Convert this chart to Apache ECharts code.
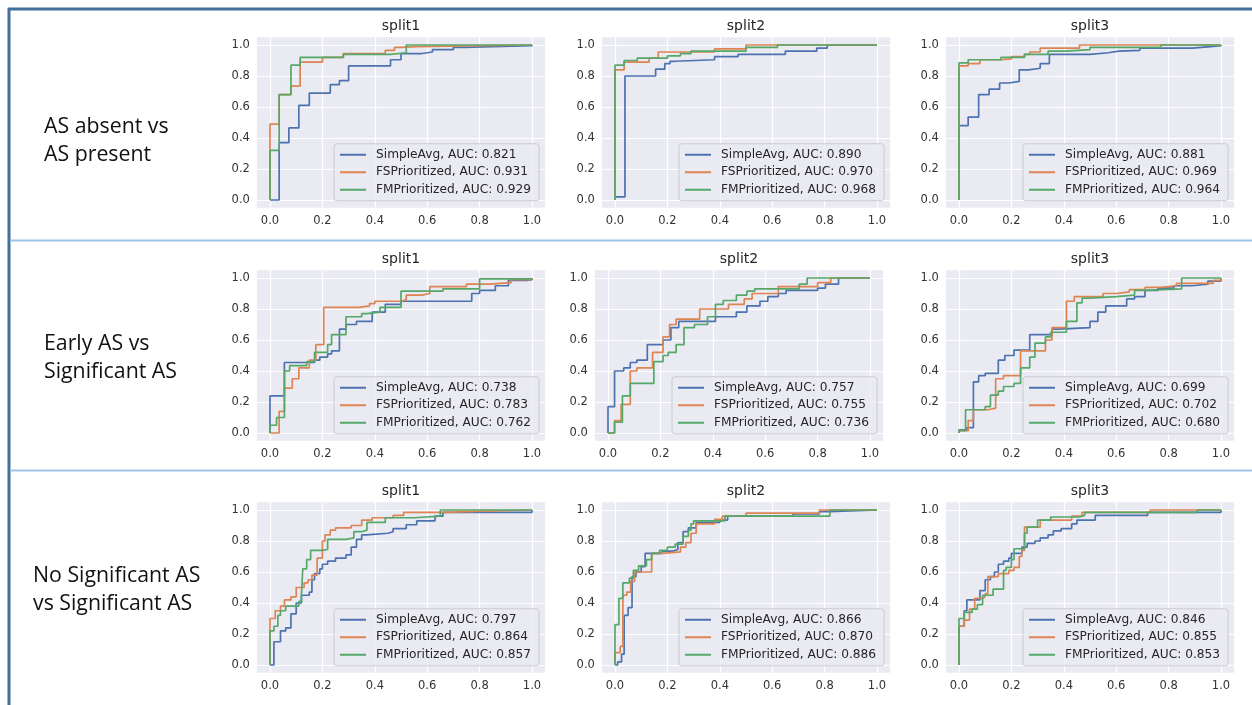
<!DOCTYPE html>
<html>
<head>
<meta charset="utf-8">
<script src="https://cdn.jsdelivr.net/npm/echarts@6/dist/echarts.min.js"></script>
<style>
  html, body { margin: 0; background: #fff; }
  #chart { width: 1252px; height: 705px; }
</style>
</head>
<body>
<div id="chart"></div>
<script>
// ---- data (ROC points: [fpr, tpr after the jump]) ----
const rowLabels = ['AS absent vs\nAS present', 'Early AS vs\nSignificant AS', 'No Significant AS\nvs Significant AS']
const splitTitles = ['split1', 'split2', 'split3']
const modelNames = ['SimpleAvg', 'FSPrioritized', 'FMPrioritized']
const tickValues = [0, 0.2, 0.4, 0.6, 0.8, 1.0]

const absentAuc = [[0.821, 0.931, 0.929], [0.890, 0.970, 0.968], [0.881, 0.969, 0.964]]
const earlyAuc = [[0.738, 0.783, 0.762], [0.757, 0.755, 0.736], [0.699, 0.702, 0.680]]
const noSigAuc = [[0.797, 0.864, 0.857], [0.866, 0.870, 0.886], [0.846, 0.855, 0.853]]

const absentS1Simple = [[0,0],[0.035,0.37],[0.072,0.465],[0.11,0.61],[0.15,0.69],[0.23,0.745],[0.265,0.77],[0.30,0.865],[0.46,0.905],[0.50,0.945],[0.58,0.955],[0.62,0.97],[0.70,0.985],[0.74,0.995],[1,1]]
const absentS1FS = [[0,0],[0,0.49],[0.035,0.68],[0.08,0.735],[0.115,0.89],[0.20,0.92],[0.28,0.945],[0.44,0.965],[0.475,0.985],[0.50,0.99],[0.56,1],[1,1]]
const absentS1FM = [[0,0],[0,0.32],[0.035,0.68],[0.08,0.87],[0.115,0.92],[0.28,0.94],[0.46,0.95],[0.52,1],[1,1]]

const absentS2Simple = [[0,0],[0,0.02],[0.038,0.80],[0.155,0.845],[0.19,0.88],[0.21,0.895],[0.23,0.905],[0.38,0.925],[0.47,0.94],[0.65,0.96],[0.77,0.98],[0.81,1],[1,1]]
const absentS2FS = [[0,0],[0,0.84],[0.035,0.89],[0.13,0.915],[0.165,0.955],[0.38,0.975],[0.50,1],[1,1]]
const absentS2FM = [[0,0],[0,0.87],[0.035,0.90],[0.085,0.915],[0.20,0.93],[0.25,0.945],[0.29,0.96],[0.50,0.985],[0.62,1],[1,1]]

const absentS3Simple = [[0,0],[0,0.48],[0.035,0.535],[0.075,0.68],[0.115,0.715],[0.155,0.755],[0.19,0.765],[0.23,0.84],[0.265,0.85],[0.31,0.88],[0.345,0.94],[0.50,0.95],[0.57,0.96],[0.61,0.965],[0.69,0.98],[0.89,0.99],[0.96,0.995],[1,1]]
const absentS3FS = [[0,0],[0,0.865],[0.035,0.88],[0.08,0.905],[0.16,0.91],[0.20,0.925],[0.25,0.94],[0.27,0.955],[0.31,0.98],[0.46,1],[1,1]]
const absentS3FM = [[0,0],[0,0.885],[0.035,0.905],[0.16,0.92],[0.25,0.94],[0.34,0.96],[0.41,0.97],[0.50,0.985],[0.77,1],[1,1]]

const earlyS1Simple = [[0,0],[0,0.24],[0.055,0.455],[0.17,0.47],[0.19,0.49],[0.22,0.51],[0.235,0.53],[0.265,0.67],[0.29,0.70],[0.33,0.72],[0.39,0.78],[0.44,0.83],[0.50,0.85],[0.77,0.90],[0.80,0.92],[0.86,0.95],[0.91,0.985],[0.98,0.99],[1,1]]
const earlyS1FS = [[0,0],[0.035,0.14],[0.055,0.29],[0.085,0.35],[0.11,0.42],[0.15,0.47],[0.175,0.57],[0.205,0.81],[0.34,0.82],[0.38,0.835],[0.40,0.85],[0.50,0.86],[0.52,0.89],[0.58,0.90],[0.61,0.945],[0.75,0.96],[0.84,0.97],[0.92,0.99],[1,1]]
const earlyS1FM = [[0,0],[0,0.05],[0.025,0.10],[0.055,0.40],[0.075,0.435],[0.14,0.46],[0.17,0.52],[0.22,0.57],[0.235,0.635],[0.29,0.75],[0.35,0.77],[0.37,0.78],[0.42,0.81],[0.50,0.915],[0.66,0.93],[0.80,0.995],[1,1]]

const earlyS2Simple = [[0,0],[0,0.17],[0.025,0.40],[0.06,0.42],[0.085,0.455],[0.11,0.47],[0.15,0.57],[0.21,0.60],[0.24,0.68],[0.27,0.72],[0.41,0.75],[0.49,0.78],[0.53,0.82],[0.58,0.85],[0.61,0.88],[0.65,0.90],[0.68,0.92],[0.80,0.935],[0.83,0.96],[0.88,1],[1,1]]
const earlyS2FS = [[0,0],[0.025,0.08],[0.05,0.185],[0.085,0.40],[0.11,0.42],[0.17,0.52],[0.21,0.62],[0.235,0.70],[0.26,0.735],[0.35,0.80],[0.46,0.83],[0.52,0.865],[0.55,0.90],[0.65,0.945],[0.80,0.97],[0.85,1],[1,1]]
const earlyS2FM = [[0,0],[0.025,0.07],[0.055,0.24],[0.085,0.32],[0.175,0.46],[0.21,0.50],[0.23,0.52],[0.26,0.57],[0.29,0.68],[0.33,0.70],[0.38,0.75],[0.41,0.83],[0.44,0.855],[0.49,0.89],[0.53,0.915],[0.56,0.93],[0.73,0.96],[0.76,1],[1,1]]

const earlyS3Simple = [[0,0],[0,0.02],[0.03,0.035],[0.055,0.33],[0.075,0.37],[0.10,0.385],[0.15,0.47],[0.175,0.50],[0.21,0.535],[0.27,0.635],[0.355,0.67],[0.38,0.68],[0.50,0.72],[0.53,0.78],[0.56,0.82],[0.64,0.865],[0.67,0.88],[0.71,0.92],[0.76,0.935],[0.82,0.95],[0.89,0.96],[0.95,0.98],[1,1]]
const earlyS3FS = [[0,0],[0,0.015],[0.035,0.08],[0.055,0.15],[0.11,0.16],[0.14,0.35],[0.17,0.37],[0.235,0.53],[0.33,0.60],[0.355,0.68],[0.41,0.85],[0.44,0.88],[0.55,0.90],[0.60,0.91],[0.65,0.925],[0.71,0.94],[0.77,0.95],[0.83,0.965],[0.97,0.985],[1,1]]
const earlyS3FM = [[0,0],[0,0.015],[0.025,0.15],[0.10,0.17],[0.12,0.245],[0.15,0.27],[0.17,0.30],[0.21,0.32],[0.235,0.42],[0.27,0.49],[0.29,0.58],[0.33,0.62],[0.35,0.65],[0.41,0.72],[0.45,0.84],[0.47,0.87],[0.50,0.88],[0.60,0.89],[0.67,0.92],[0.71,0.93],[0.85,1],[1,1]]

const noSigS1Simple = [[0,0],[0.015,0.15],[0.04,0.22],[0.06,0.24],[0.08,0.33],[0.10,0.40],[0.12,0.45],[0.15,0.47],[0.16,0.55],[0.17,0.59],[0.19,0.62],[0.20,0.65],[0.22,0.67],[0.25,0.69],[0.29,0.71],[0.31,0.76],[0.33,0.81],[0.35,0.84],[0.37,0.85],[0.45,0.86],[0.47,0.88],[0.52,0.905],[0.56,0.93],[0.63,0.96],[0.66,0.985],[1,1]]
const noSigS1FS = [[0,0],[0,0.30],[0.02,0.35],[0.04,0.38],[0.055,0.42],[0.08,0.44],[0.10,0.50],[0.13,0.53],[0.145,0.55],[0.16,0.58],[0.18,0.69],[0.20,0.80],[0.21,0.84],[0.23,0.87],[0.25,0.885],[0.31,0.90],[0.35,0.935],[0.39,0.95],[0.47,0.965],[0.51,0.985],[0.67,0.99],[0.75,1],[1,1]]
const noSigS1FM = [[0,0],[0,0.22],[0.015,0.25],[0.03,0.32],[0.04,0.35],[0.06,0.38],[0.11,0.41],[0.12,0.45],[0.125,0.62],[0.14,0.68],[0.155,0.74],[0.20,0.745],[0.22,0.81],[0.29,0.82],[0.32,0.86],[0.35,0.87],[0.37,0.92],[0.44,0.95],[0.55,0.96],[0.65,1],[1,1]]

const noSigS2Simple = [[0,0],[0.01,0.02],[0.025,0.07],[0.035,0.32],[0.05,0.37],[0.065,0.57],[0.08,0.60],[0.10,0.635],[0.115,0.72],[0.18,0.735],[0.22,0.745],[0.24,0.79],[0.26,0.86],[0.28,0.885],[0.31,0.92],[0.40,0.935],[0.43,0.96],[0.68,0.975],[0.78,0.99],[0.82,1],[1,1]]
const noSigS2FS = [[0,0],[0,0.08],[0.02,0.12],[0.03,0.45],[0.045,0.47],[0.06,0.54],[0.075,0.60],[0.14,0.72],[0.18,0.73],[0.25,0.76],[0.27,0.79],[0.29,0.85],[0.31,0.91],[0.38,0.94],[0.41,0.96],[0.50,0.98],[0.78,1],[1,1]]
const noSigS2FM = [[0,0],[0,0.26],[0.015,0.43],[0.03,0.53],[0.055,0.56],[0.07,0.61],[0.09,0.64],[0.12,0.68],[0.14,0.72],[0.17,0.74],[0.20,0.76],[0.23,0.78],[0.26,0.83],[0.28,0.87],[0.29,0.91],[0.30,0.93],[0.42,0.96],[0.82,1],[1,1]]

const noSigS3Simple = [[0,0],[0,0.25],[0.02,0.35],[0.03,0.42],[0.08,0.48],[0.10,0.55],[0.12,0.57],[0.135,0.60],[0.15,0.65],[0.17,0.67],[0.19,0.69],[0.20,0.72],[0.24,0.76],[0.26,0.785],[0.29,0.80],[0.31,0.82],[0.34,0.84],[0.36,0.865],[0.39,0.88],[0.43,0.91],[0.45,0.935],[0.52,0.965],[0.72,0.985],[1,1]]
const noSigS3FS = [[0,0],[0,0.25],[0.02,0.29],[0.04,0.36],[0.06,0.43],[0.09,0.44],[0.10,0.46],[0.11,0.57],[0.15,0.59],[0.19,0.61],[0.21,0.63],[0.23,0.70],[0.24,0.74],[0.25,0.89],[0.31,0.935],[0.43,0.96],[0.47,0.985],[0.73,1],[1,1]]
const noSigS3FM = [[0,0],[0,0.30],[0.02,0.34],[0.05,0.36],[0.07,0.39],[0.09,0.45],[0.13,0.49],[0.17,0.61],[0.18,0.63],[0.20,0.68],[0.21,0.75],[0.25,0.85],[0.26,0.89],[0.30,0.935],[0.35,0.955],[0.46,0.965],[0.48,0.985],[0.91,1],[1,1]]

// panels row by row
const panelCurves = [
  [[absentS1Simple, absentS1FS, absentS1FM], [absentS2Simple, absentS2FS, absentS2FM], [absentS3Simple, absentS3FS, absentS3FM]],
  [[earlyS1Simple, earlyS1FS, earlyS1FM], [earlyS2Simple, earlyS2FS, earlyS2FM], [earlyS3Simple, earlyS3FS, earlyS3FM]],
  [[noSigS1Simple, noSigS1FS, noSigS1FM], [noSigS2Simple, noSigS2FS, noSigS2FM], [noSigS3Simple, noSigS3FS, noSigS3FM]]
]
const panelAuc = [absentAuc, earlyAuc, noSigAuc]

// ---- layout (pixel position of data 0 on x, data 1 on y, per panel) ----
const W = 1252, H = 705
const plotW = 262, plotH = 155
const colX0 = [[270, 615, 959], [270, 608, 959], [270, 615, 959]]
const rowY1 = [45, 278, 510]
const rowLabelPos = [[44, 141], [44, 358], [33, 590]]
const colors = ['#4C72B0', '#DD8452', '#55A868']
const font = 'DejaVu Sans'

const chart = echarts.init(document.getElementById('chart'), null, {renderer: 'canvas'})

const grid = [], xAxis = [], yAxis = [], series = [], legend = [], graphic = []

panelCurves.forEach((row, r) => {
  row.forEach((curves, c) => {
    const i = r * 3 + c
    const left = colX0[r][c] - 0.05 * plotW
    const top = rowY1[r] - 0.05 * plotH
    const gw = plotW * 1.1, gh = plotH * 1.1
    grid.push({left, top, width: gw, height: gh, show: true, backgroundColor: '#EAEAF2', borderWidth: 0})

    const axisCommon = {
      type: 'value', gridIndex: i, min: -0.05, max: 1.05,
      axisLine: {show: false, onZero: false},
      axisTick: {show: false, customValues: tickValues},
      axisLabel: {customValues: tickValues, formatter: v => v.toFixed(1), color: '#333', fontSize: 11.5, fontFamily: font, margin: 7},
      splitLine: {show: true, lineStyle: {color: '#ffffff', width: 1.2}}
    }
    xAxis.push(Object.assign({}, axisCommon))
    yAxis.push(Object.assign({}, axisCommon))

    const names = []
    curves.forEach((pts, k) => {
      const name = modelNames[k] + ', AUC: ' + panelAuc[r][c][k].toFixed(3)
      names.push(name)
      series.push({
        type: 'line', name, xAxisIndex: i, yAxisIndex: i,
        data: pts, step: 'end', symbol: 'none', showSymbol: false,
        lineStyle: {color: colors[k], width: 1.7},
        itemStyle: {color: colors[k]},
        animation: false, silent: true
      })
    })

    legend.push({
      data: names, orient: 'vertical',
      right: W - (left + gw - 6), bottom: H - (top + gh - 7),
      backgroundColor: 'rgba(234,234,242,0.8)', borderColor: '#cccccc', borderWidth: 1, borderRadius: 3,
      padding: [5, 8, 5, 5], itemWidth: 26, itemHeight: 14, itemGap: 5.5,
      selectedMode: false,
      itemStyle: {opacity: 0},
      textStyle: {fontSize: 12.2, fontFamily: font, color: '#262626', padding: [0, 0, 0, 5]}
    })

    graphic.push({
      type: 'text', x: colX0[r][c] + plotW / 2, y: top - 10.5,
      style: {text: splitTitles[c], font: '14px "' + font + '"', fill: '#262626', textAlign: 'center', textVerticalAlign: 'middle'}
    })
  })
})

rowLabels.forEach((txt, r) => {
  graphic.push({
    type: 'text', x: rowLabelPos[r][0], y: rowLabelPos[r][1],
    style: {text: txt, font: '21.3px "Open Sans"', fill: '#111', textAlign: 'left', textVerticalAlign: 'middle', lineHeight: 28}
  })
})

// slide frame lines
graphic.push(
  {type: 'line', shape: {x1: 8, y1: 9, x2: W, y2: 9}, style: {stroke: '#41719C', lineWidth: 3}},
  {type: 'line', shape: {x1: 9, y1: 8, x2: 9, y2: H}, style: {stroke: '#41719C', lineWidth: 3}},
  {type: 'line', shape: {x1: 10.5, y1: 240.5, x2: W, y2: 240.5}, style: {stroke: '#9DC3E6', lineWidth: 2}},
  {type: 'line', shape: {x1: 10.5, y1: 470.5, x2: W, y2: 470.5}, style: {stroke: '#9DC3E6', lineWidth: 2}}
)

chart.setOption({animation: false, grid, xAxis, yAxis, series, legend, graphic})
</script>
</body>
</html>
